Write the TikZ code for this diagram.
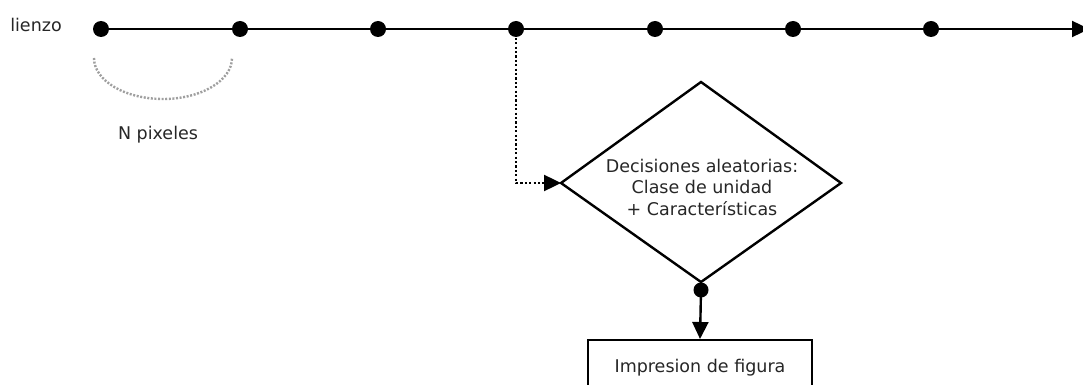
\documentclass[tikz,border=0pt]{standalone}
\usepackage{fontspec}
\setmainfont{DejaVu Sans}
\usetikzlibrary{arrows.meta}
\begin{document}
\begin{tikzpicture}[x=1pt,y=-1pt,
  txt/.style={font=\fontsize{17.5}{21.5}\selectfont, text=black!85, inner sep=0pt, align=center},
  dotnode/.style={circle, fill=black, minimum size=16pt, inner sep=0pt},
  solidline/.style={line width=2.4pt, black},
  tip/.style={-{Triangle[length=17pt,width=16pt]}},
  dotline/.style={line width=2.4pt, dash pattern=on 2.2pt off 2.2pt},
  grayarc/.style={line width=2.4pt, gray!75, dash pattern=on 2pt off 1.6pt}]
\useasboundingbox (0,0) rectangle (1083,385);
\clip (0,0) rectangle (1083,385);
% main line
\node[txt] (lienzo) at (36,25) {lienzo};
\node[dotnode] (p1) at (101,29) {};
\node[dotnode] (p2) at (240,29) {};
\node[dotnode] (p3) at (378,29) {};
\node[dotnode] (p4) at (516,29) {};
\node[dotnode] (p5) at (655,29) {};
\node[dotnode] (p6) at (793,29) {};
\node[dotnode] (p7) at (931,29) {};
\coordinate (end) at (1089,29);
\draw[solidline, tip] (p1.center) -- (end);
% N pixeles arc
\coordinate (a1) at (94,58);
\draw[grayarc] (a1) arc[start angle=180, end angle=0, x radius=69, y radius=41];
\node[txt] (npix) at (158,135) {N pixeles};
% diamond
\coordinate (dl) at (561,183);
\coordinate (dt) at (701,82);
\coordinate (dr) at (841,183);
\coordinate (db) at (701,282);
\draw[solidline] (dl) -- (dt) -- (dr) -- (db) -- cycle;
\node[txt] (dec) at (702,187) {Decisiones aleatorias:\\Clase de unidad\\ + Características};
\draw[dotline, tip] (p4.center) |- (dl);
% bottom
\node[dotnode, minimum size=15pt] (bd) at (701,290) {};
\node[txt, draw, line width=2.4pt, minimum width=224pt, minimum height=55pt, anchor=north] (imp) at (700,339) {Impresion de figura};
\draw[solidline, tip] (bd.center) -- (imp.north);
\end{tikzpicture}
\end{document}
